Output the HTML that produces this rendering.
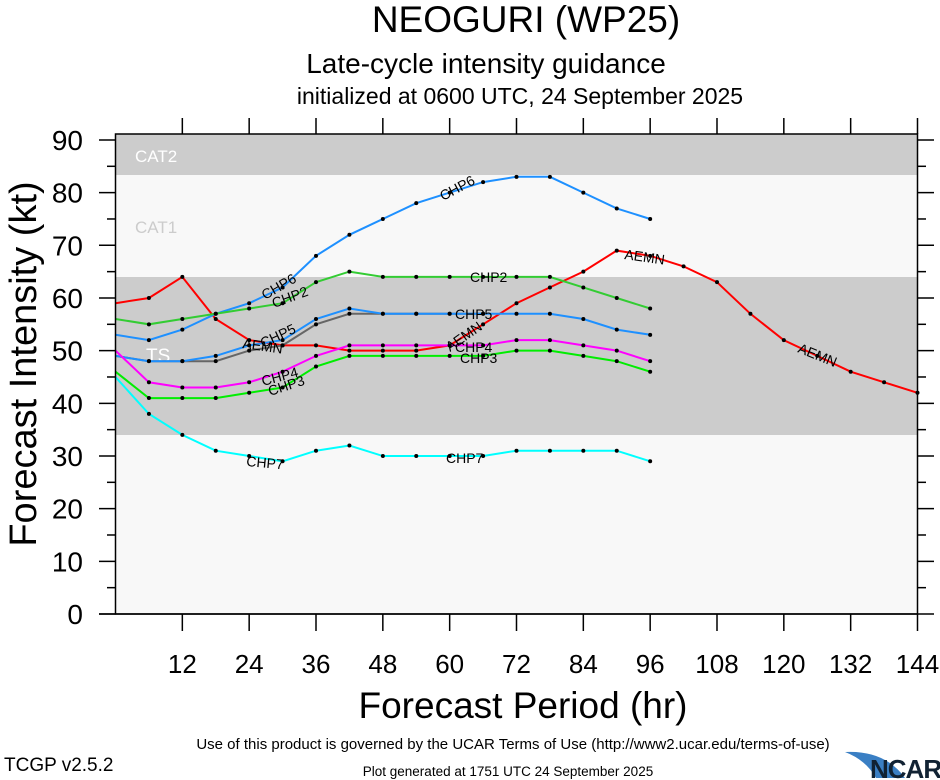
<!DOCTYPE html><html><head><meta charset="utf-8"><style>body{margin:0;background:#fff}svg{display:block}text{font-family:"Liberation Sans",sans-serif}</style></head><body>
<svg width="940" height="780" viewBox="0 0 940 780" xmlns="http://www.w3.org/2000/svg">
<rect width="940" height="780" fill="#fff"/>
<text x="526" y="32" font-size="37" text-anchor="middle">NEOGURI (WP25)</text>
<text x="486" y="73" font-size="28" text-anchor="middle">Late-cycle intensity guidance</text>
<text x="520" y="104" font-size="23" text-anchor="middle">initialized at 0600 UTC, 24 September 2025</text>
<rect x="115.5" y="134" width="802" height="480" fill="#f8f8f8"/>
<rect x="115.5" y="134" width="802" height="41" fill="#cccccc"/>
<rect x="115.5" y="277" width="802" height="158" fill="#cccccc"/>
<text x="135" y="162" font-size="17" fill="#fff">CAT2</text>
<text x="135" y="233" font-size="17" fill="#cccccc">CAT1</text>
<text x="146" y="362" font-size="19" fill="#fff">TS</text>
<g id="lines" fill="none" stroke-width="2"></g>
<g id="dots" fill="#000"></g>
<g id="labels" font-size="14" fill="#000"></g>
<rect x="115.5" y="134" width="802" height="480" fill="none" stroke="#000" stroke-width="1.5"/>
<g id="ticks" stroke="#000" stroke-width="1.5"></g>
<g id="tl" fill="#000"></g>
<text transform="translate(36,364) rotate(-90)" font-size="38" text-anchor="middle">Forecast Intensity (kt)</text>
<text x="523" y="718" font-size="37" text-anchor="middle">Forecast Period (hr)</text>
<text x="513" y="749" font-size="15" text-anchor="middle">Use of this product is governed by the UCAR Terms of Use (http://www2.ucar.edu/terms-of-use)</text>
<text x="4" y="771" font-size="19">TCGP v2.5.2</text>
<text x="508" y="776" font-size="13.5" text-anchor="middle">Plot generated at 1751 UTC   24 September 2025</text>
<path d="M845 752 Q885 750 905 778 L876 778 Q866 760 845 752Z" fill="#3a7fc4"/>
<text x="870" y="778" font-size="26" font-weight="bold" fill="#123" letter-spacing="-1">NCAR</text>
</svg>
<script>
const X=h=>115.5+h*5.5694, Y=v=>614-v*5.267;
const S=[
["#ff0000",[59,60,64,56,52,51,51,50,50,50,51,55,59,62,65,69,68,66,63,57,52,49,46,44,42]],
["#1e90ff",[53,52,54,57,59,62,68,72,75,78,80,82,83,83,80,77,75]],
["#33cc33",[56,55,56,57,58,59,63,65,64,64,64,64,64,64,62,60,58]],
["#666666",[49,48,48,48,50,51,55,57,57,57,57,57]],
["#1e90ff",[49,48,48,49,51,52,56,58,57,57,57,57,57,57,56,54,53]],
["#ff00ff",[50,44,43,43,44,46,49,51,51,51,51,51,52,52,51,50,48]],
["#00ee00",[46,41,41,41,42,43,47,49,49,49,49,49,50,50,49,48,46]],
["#00ffff",[45,38,34,31,30,29,31,32,30,30,30,30,31,31,31,31,29]]];
let L='',D='';
for(const [c,d] of S){L+=`<polyline stroke="${c}" points="${d.map((v,i)=>X(i*6).toFixed(1)+','+Y(v).toFixed(1)).join(' ')}"/>`;
d.forEach((v,i)=>{if(i>0)D+=`<circle cx="${X(i*6)}" cy="${Y(v)}" r="2"/>`});}
document.getElementById('lines').innerHTML=L;document.getElementById('dots').innerHTML=D;
const lab=[["CHP6",265,300,-30],["CHP2",274,308,-20],["AEMN",242,348,8],["CHP5",263,348,-25],["CHP4",263,386,-15],["CHP3",270,396,-18],["CHP7",246,466,5],["CHP7",446,463,0],["CHP2",470,282,0],["CHP5",455,319,0],["CHP4",455,352,0],["CHP3",460,363,0],["AEMN",450,352,-35],["CHP6",443,201,-28],["AEMN",624,259,8],["AEMN",797,352,22]];
document.getElementById('labels').innerHTML=lab.map(([t,x,y,r])=>`<text transform="translate(${x},${y}) rotate(${r})">${t}</text>`).join('');
let T='',TL='';
for(let v=0;v<=90;v+=10){T+=`<line x1="99" x2="115.5" y1="${Y(v)}" y2="${Y(v)}"/><line x1="917.5" x2="934" y1="${Y(v)}" y2="${Y(v)}"/>`;TL+=`<text x="83" y="${Y(v)+10}" font-size="28" text-anchor="end">${v}</text>`;
if(v<90)T+=`<line x1="107" x2="115.5" y1="${Y(v+5)}" y2="${Y(v+5)}"/><line x1="917.5" x2="926" y1="${Y(v+5)}" y2="${Y(v+5)}"/>`;}
T+=`<line x1="99" x2="917.5" y1="614" y2="614"/>`;
for(let h=12;h<=144;h+=12){T+=`<line x1="${X(h)}" x2="${X(h)}" y1="614" y2="631"/><line x1="${X(h)}" x2="${X(h)}" y1="134" y2="118"/>`;TL+=`<text x="${X(h)}" y="673" font-size="26" text-anchor="middle">${h}</text>`;}
document.getElementById('ticks').innerHTML=T;document.getElementById('tl').innerHTML=TL;
</script>
</body></html>
